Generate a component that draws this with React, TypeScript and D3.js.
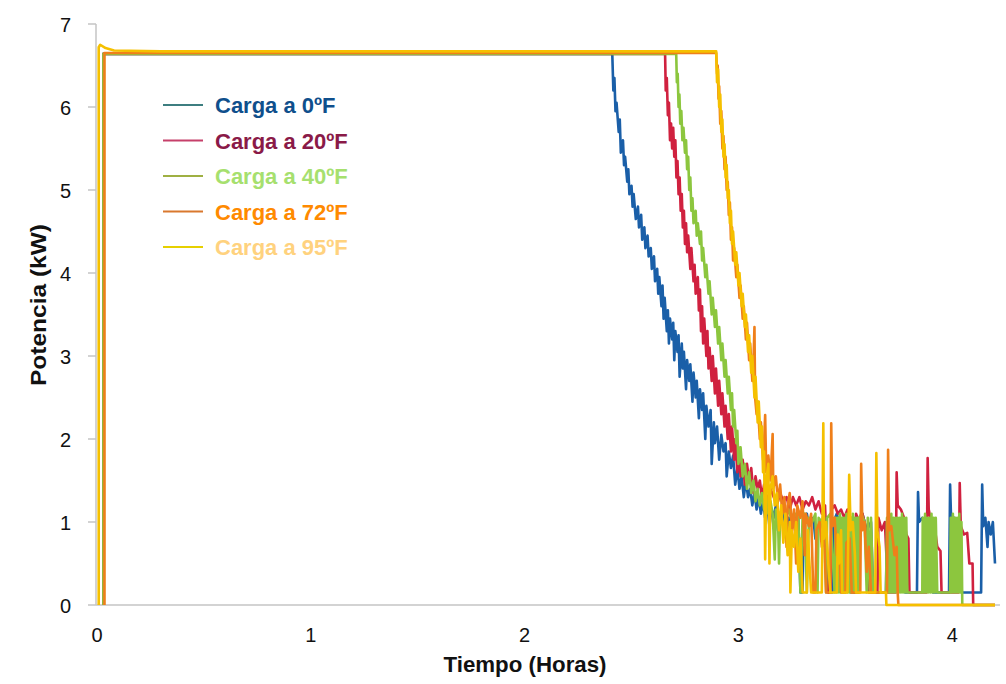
import React from "react";
import * as d3 from "d3";

type Pt = [number, number];

const xTicks = [0, 1, 2, 3, 4];
const yTicks = [0, 1, 2, 3, 4, 5, 6, 7];
const legendLabels = ["Carga a 0ºF", "Carga a 20ºF", "Carga a 40ºF", "Carga a 72ºF", "Carga a 95ºF"];

const carga0F: Pt[] = [
  [0.03, 0], [0.03, 6.64], [1.2, 6.64], [2.41, 6.64],
  [2.415, 6.2], [2.42, 6.35], [2.425, 5.95], [2.43, 6.05], [2.44, 5.7], [2.445, 5.85], [2.45, 5.45], [2.46, 5.6], [2.465, 5.3], [2.47, 5.4], [2.48, 5.1], [2.485, 5.25], [2.49, 4.95], [2.5, 5.05], [2.505, 4.8], [2.51, 4.95], [2.52, 4.65], [2.53, 4.8], [2.535, 4.55], [2.545, 4.7], [2.55, 4.4], [2.56, 4.55], [2.565, 4.3], [2.575, 4.45], [2.58, 4.2], [2.59, 4.3], [2.595, 4.05], [2.605, 4.2], [2.61, 3.9], [2.62, 4.05], [2.625, 3.75], [2.63, 3.95], [2.64, 3.6], [2.645, 3.85], [2.65, 3.45], [2.655, 3.7], [2.665, 3.3], [2.67, 3.55], [2.675, 3.15], [2.68, 3.45], [2.69, 3.2], [2.695, 3.4], [2.7, 2.95], [2.705, 3.3], [2.715, 3.05], [2.72, 3.25], [2.725, 2.75], [2.735, 3.15], [2.74, 2.85], [2.745, 3.05], [2.755, 2.6], [2.76, 2.95], [2.77, 2.7], [2.775, 2.9], [2.785, 2.45], [2.79, 2.8], [2.8, 2.5], [2.805, 2.7], [2.815, 2.25], [2.82, 2.6], [2.83, 2.35], [2.835, 2.55], [2.845, 2.0], [2.85, 2.4], [2.86, 2.15], [2.87, 2.35], [2.875, 1.7], [2.885, 2.2], [2.89, 1.95], [2.9, 2.15], [2.91, 1.75], [2.92, 2.05], [2.93, 1.85], [2.94, 1.95], [2.945, 1.55], [2.955, 1.85], [2.965, 1.65], [2.975, 1.8], [2.985, 1.45], [2.995, 1.65], [3.005, 1.4], [3.015, 1.55], [3.025, 1.3], [3.035, 1.5], [3.045, 1.3], [3.055, 1.4], [3.065, 1.2], [3.075, 1.35], [3.085, 1.15], [3.095, 1.3], [3.105, 1.1], [3.115, 1.25], [3.125, 1.05], [3.135, 1.2], [3.145, 0.95], [3.155, 1.15], [3.165, 1.05], [3.175, 1.2], [3.185, 0.9], [3.195, 1.1], [3.205, 1.0], [3.215, 1.15], [3.225, 0.85], [3.235, 1.05], [3.25, 1.0],
  [3.26, 1.1], [3.27, 0.9], [3.28, 1.05], [3.29, 0.15], [3.3, 0.15], [3.305, 1.0], [3.32, 1.1], [3.33, 0.95], [3.35, 1.05], [3.36, 0.8], [3.38, 1.0], [3.4, 0.9], [3.41, 1.05], [3.42, 0.15], [3.44, 0.15], [3.445, 1.0], [3.46, 1.1], [3.48, 0.9], [3.5, 1.0], [3.52, 0.85], [3.53, 1.05], [3.54, 0.15], [3.56, 0.15], [3.565, 1.0], [3.58, 1.1], [3.6, 0.9], [3.62, 1.0], [3.63, 0.15], [3.69, 0.15], [3.695, 0.95], [3.71, 1.05], [3.73, 0.9], [3.75, 1.0], [3.77, 0.85], [3.78, 0.15], [3.835, 0.15], [3.84, 1.36], [3.845, 1.0], [3.86, 1.05], [3.88, 0.9], [3.9, 1.0], [3.91, 0.15], [3.985, 0.15], [3.99, 1.45], [3.995, 1.0], [4.01, 1.05], [4.03, 0.9], [4.045, 0.15], [4.135, 0.15], [4.14, 1.45], [4.145, 0.95], [4.155, 1.05], [4.165, 0.7], [4.17, 1.0], [4.18, 0.85], [4.19, 1.0], [4.2, 0.5],
];

const carga20F: Pt[] = [
  [0.03, 0], [0.03, 6.64], [1.3, 6.64], [2.657, 6.64],
  [2.66, 6.2], [2.665, 6.35], [2.67, 5.9], [2.675, 6.05], [2.68, 5.6], [2.685, 5.8], [2.69, 5.5], [2.695, 5.75], [2.7, 5.4], [2.705, 5.6], [2.71, 5.15], [2.715, 5.35], [2.72, 4.95], [2.725, 5.15], [2.73, 4.75], [2.735, 4.95], [2.74, 4.55], [2.745, 4.75], [2.75, 4.35], [2.755, 4.6], [2.76, 4.25], [2.765, 4.45], [2.775, 4.05], [2.78, 4.3], [2.79, 3.9], [2.795, 4.1], [2.8, 3.75], [2.81, 3.95], [2.815, 3.55], [2.82, 3.8], [2.825, 3.3], [2.83, 3.6], [2.835, 3.15], [2.84, 3.45], [2.85, 3.0], [2.855, 3.3], [2.86, 2.85], [2.865, 3.1], [2.875, 2.7], [2.88, 3.0], [2.89, 2.55], [2.895, 2.85], [2.905, 2.4], [2.91, 2.7], [2.92, 2.3], [2.925, 2.55], [2.935, 2.15], [2.94, 2.4], [2.95, 2.0], [2.955, 2.3], [2.965, 1.85], [2.97, 2.15], [2.98, 1.75], [2.985, 2.0], [2.995, 1.6], [3.0, 1.9], [3.01, 1.55], [3.02, 1.75], [3.03, 1.45], [3.04, 1.7], [3.05, 1.5], [3.06, 1.65], [3.07, 1.35], [3.08, 1.55], [3.09, 1.4], [3.1, 1.5], [3.11, 1.3], [3.12, 1.45], [3.135, 1.25], [3.15, 1.4], [3.165, 1.3], [3.18, 1.2], [3.195, 1.35], [3.21, 1.25], [3.225, 1.3], [3.24, 1.15], [3.255, 1.3], [3.27, 1.2], [3.285, 1.3], [3.3, 1.15], [3.315, 1.25], [3.33, 1.2], [3.345, 1.3], [3.36, 1.15], [3.375, 1.25], [3.39, 1.1], [3.405, 1.2], [3.42, 0.15], [3.43, 0.15], [3.435, 1.15], [3.45, 1.2], [3.465, 1.1], [3.48, 1.15], [3.495, 1.05], [3.51, 1.15], [3.525, 0.15], [3.545, 0.15], [3.55, 1.1], [3.565, 1.0], [3.58, 1.1], [3.595, 0.95], [3.61, 0.15], [3.65, 0.15], [3.655, 1.05], [3.67, 0.9], [3.685, 1.0], [3.7, 0.15], [3.735, 0.15], [3.74, 1.6], [3.745, 1.2], [3.76, 1.15], [3.775, 1.05], [3.785, 0.85], [3.795, 0.8], [3.8, 0.15], [3.88, 0.15], [3.885, 1.77], [3.89, 1.15], [3.905, 0.95], [3.92, 0.9], [3.93, 0.7], [3.945, 0.65], [3.95, 0.15], [4.03, 0.15], [4.035, 1.47], [4.04, 0.95], [4.055, 0.85], [4.07, 0.87], [4.08, 0.5], [4.095, 0.5], [4.098, 0], [4.2, 0],
];

const carga40F: Pt[] = [
  [0.03, 0], [0.03, 6.64], [1.4, 6.64], [2.709, 6.64],
  [2.712, 6.3], [2.716, 6.4], [2.72, 6.0], [2.724, 6.15], [2.728, 5.8], [2.733, 5.95], [2.738, 5.6], [2.743, 5.75], [2.75, 5.45], [2.755, 5.6], [2.76, 5.25], [2.765, 5.4], [2.77, 5.0], [2.775, 5.15], [2.78, 4.75], [2.785, 4.9], [2.79, 4.6], [2.8, 4.75], [2.805, 4.45], [2.81, 4.6], [2.82, 4.35], [2.825, 4.5], [2.83, 4.15], [2.835, 4.3], [2.845, 3.95], [2.85, 4.1], [2.86, 3.75], [2.865, 3.9], [2.875, 3.5], [2.88, 3.7], [2.89, 3.35], [2.895, 3.55], [2.905, 3.15], [2.91, 3.35], [2.92, 2.95], [2.925, 3.15], [2.935, 2.75], [2.94, 2.95], [2.95, 2.55], [2.955, 2.75], [2.965, 2.35], [2.97, 2.55], [2.975, 2.15], [2.98, 2.35], [2.99, 1.95], [2.995, 2.1], [3.0, 1.7], [3.01, 1.9], [3.02, 1.55], [3.03, 1.7], [3.04, 1.4], [3.05, 1.6], [3.06, 1.35], [3.07, 1.5], [3.08, 1.25], [3.09, 1.4], [3.1, 1.2], [3.11, 1.35], [3.12, 1.15], [3.13, 1.3], [3.14, 1.1], [3.15, 1.25],
  [3.16, 1.1], [3.17, 0.55], [3.175, 1.15], [3.185, 1.05], [3.19, 0.5], [3.195, 1.1], [3.21, 1.2], [3.22, 1.05], [3.235, 1.15], [3.25, 1.0], [3.265, 1.1], [3.28, 1.05], [3.29, 0.15], [3.3, 1.05], [3.31, 1.1], [3.32, 0.15], [3.33, 1.05], [3.345, 1.0], [3.36, 1.1], [3.37, 0.15], [3.375, 1.05], [3.39, 1.0], [3.4, 1.1], [3.41, 0.15], [3.415, 1.05], [3.43, 1.1],
  [3.45, 0.15], [3.455, 1.05], [3.46, 0.15], [3.465, 1.05], [3.47, 0.15], [3.475, 1.1], [3.48, 0.15], [3.485, 1.05], [3.49, 0.15], [3.495, 1.05], [3.5, 0.15], [3.505, 1.1], [3.51, 0.15], [3.515, 1.05], [3.52, 0.15], [3.525, 1.05], [3.53, 0.15], [3.535, 1.1], [3.54, 0.15], [3.545, 1.05], [3.55, 0.15], [3.555, 1.05], [3.56, 0.15], [3.565, 1.05], [3.575, 1.1], [3.59, 1.0], [3.6, 0.15], [3.605, 1.05], [3.615, 0.15], [3.62, 1.05], [3.63, 0.15],
  [3.69, 0.15], [3.695, 1.05], [3.7, 0.15], [3.705, 1.05], [3.71, 0.15], [3.715, 1.1], [3.72, 0.15], [3.725, 1.05], [3.73, 0.15], [3.735, 1.05], [3.74, 0.15], [3.745, 1.05], [3.75, 0.15], [3.755, 1.05], [3.76, 0.15], [3.765, 1.1], [3.77, 0.15], [3.775, 1.05], [3.78, 0.15], [3.785, 1.05], [3.79, 0.15],
  [3.86, 0.15], [3.862, 1.05], [3.868, 0.15], [3.873, 1.1], [3.878, 0.15], [3.883, 1.05], [3.888, 0.15], [3.893, 1.05], [3.898, 0.15], [3.903, 1.1], [3.908, 0.15], [3.913, 1.05], [3.918, 0.15], [3.923, 1.05], [3.93, 0.15],
  [3.99, 0.15], [3.993, 1.05], [3.998, 0.15], [4.003, 1.1], [4.008, 0.15], [4.013, 1.05], [4.018, 0.15], [4.023, 1.05], [4.028, 0.15], [4.033, 1.1], [4.038, 0.15], [4.043, 1.0], [4.047, 0], [4.2, 0],
];

const carga72F: Pt[] = [
  [0.035, 0], [0.035, 6.65], [1.5, 6.65], [2.896, 6.65],
  [2.9, 6.4], [2.903, 6.5], [2.907, 6.1], [2.91, 6.25], [2.915, 5.8], [2.92, 5.95], [2.925, 5.5], [2.93, 5.65], [2.935, 5.25], [2.94, 5.4], [2.945, 5.0], [2.95, 5.1], [2.955, 4.7], [2.96, 4.85], [2.965, 4.4], [2.97, 4.55], [2.975, 4.15], [2.98, 4.3], [2.99, 3.95], [2.995, 4.1], [3.005, 3.7], [3.01, 3.85], [3.02, 3.45], [3.025, 3.6], [3.035, 3.2], [3.04, 3.4], [3.05, 2.95], [3.055, 3.15], [3.065, 2.7], [3.07, 2.9], [3.075, 3.35], [3.078, 2.5], [3.085, 2.3], [3.09, 2.45], [3.1, 2.0], [3.105, 2.2], [3.115, 1.75], [3.12, 1.95], [3.125, 2.29], [3.13, 1.6], [3.14, 1.8], [3.15, 1.5], [3.16, 2.06], [3.163, 1.4], [3.175, 1.55], [3.185, 1.25], [3.195, 1.45], [3.205, 1.1], [3.215, 1.3], [3.225, 0.7], [3.23, 1.2], [3.24, 1.35], [3.25, 0.9], [3.26, 1.15], [3.27, 0.5], [3.275, 1.2], [3.29, 1.05], [3.3, 1.25], [3.31, 0.6], [3.315, 1.1], [3.33, 0.95], [3.34, 1.1], [3.35, 0.15], [3.36, 0.15], [3.365, 0.9], [3.38, 1.0], [3.39, 0.7], [3.4, 0.9], [3.41, 0.15], [3.43, 0.15], [3.434, 2.19], [3.44, 0.95], [3.45, 1.05], [3.46, 0.6], [3.47, 0.8], [3.48, 0.15], [3.5, 0.15], [3.505, 0.75], [3.52, 0.8], [3.53, 0.15], [3.57, 0.15], [3.574, 1.7], [3.58, 0.9], [3.59, 1.0], [3.6, 0.4], [3.61, 0.7], [3.62, 0.15], [3.695, 0.15], [3.7, 1.87], [3.705, 0.9], [3.715, 0.95], [3.73, 0.6], [3.74, 0.7], [3.745, 0.15], [3.748, 0], [4.2, 0],
];

const carga95F: Pt[] = [
  [0.008, 0], [0.008, 6.72], [0.015, 6.75], [0.04, 6.71], [0.08, 6.68], [0.3, 6.67], [2.896, 6.67],
  [2.9, 6.3], [2.905, 6.45], [2.91, 6.0], [2.915, 6.15], [2.92, 5.7], [2.925, 5.85], [2.93, 5.4], [2.935, 5.55], [2.94, 5.15], [2.945, 5.3], [2.95, 4.9], [2.955, 5.0], [2.96, 4.6], [2.965, 4.75], [2.97, 4.35], [2.975, 4.5], [2.985, 4.1], [2.99, 4.25], [3.0, 3.85], [3.005, 4.0], [3.015, 3.6], [3.02, 3.75], [3.03, 3.35], [3.035, 3.5], [3.045, 3.05], [3.05, 3.25], [3.06, 2.8], [3.065, 3.0], [3.075, 2.5], [3.08, 2.75], [3.09, 2.2], [3.095, 2.45], [3.105, 1.9], [3.11, 2.15], [3.115, 1.6], [3.12, 1.85], [3.125, 0.55], [3.13, 1.5], [3.14, 1.7], [3.145, 0.5], [3.15, 1.4], [3.16, 1.55], [3.17, 1.2], [3.18, 1.35], [3.19, 0.9], [3.2, 1.2], [3.21, 0.75], [3.22, 1.1], [3.23, 0.6], [3.24, 1.0], [3.243, 0.15], [3.25, 0.9], [3.26, 0.7], [3.27, 1.0], [3.28, 0.4], [3.29, 0.8], [3.3, 0.15], [3.32, 0.15], [3.325, 0.9], [3.33, 0.6], [3.34, 0.15], [3.39, 0.15], [3.397, 2.19], [3.4, 0.8], [3.41, 1.0], [3.42, 0.5], [3.43, 0.15], [3.46, 0.15], [3.465, 0.85], [3.47, 0.5], [3.48, 0.9], [3.485, 0.15], [3.51, 0.15], [3.518, 1.57], [3.525, 0.9], [3.535, 1.0], [3.545, 0.6], [3.55, 0.15], [3.64, 0.15], [3.645, 1.83], [3.65, 0.9], [3.66, 0.7], [3.665, 0.15], [3.69, 0.15], [3.692, 0], [4.2, 0],
];

const seriesData = [carga0F, carga20F, carga40F, carga72F, carga95F];
const lineColors = ["#1a5fa8", "#d0213f", "#8cc63e", "#ef7f1a", "#f5c000"];
const legendLineColors = ["#3d7e80", "#c6406a", "#9fb043", "#d9782e", "#e6d000"];
const legendTextColors = ["#0f4f8c", "#8a1a48", "#a6e06e", "#ff8a00", "#ffd27e"];

export default function App() {
  const W = 1006;
  const H = 684;
  const x = d3.scaleLinear().domain([0, 4.2]).range([97, 995]);
  const y = d3.scaleLinear().domain([0, 7]).range([605, 24]);
  const line = d3.line<Pt>().x((d) => x(d[0])).y((d) => y(d[1]));
  const font = "'Liberation Sans', Arial, Helvetica, sans-serif";
  const axisColor = "#c4c4c4";

  return (
    <svg
      width={W}
      height={H}
      style={{ position: "absolute", left: 0, top: 0, background: "#fff" }}
      fontFamily={font}
    >
      <rect x={0} y={0} width={W} height={H} fill="#fff" />
      <line x1={96} x2={96} y1={y(7)} y2={y(0)} stroke={axisColor} strokeWidth={1.5} />
      <line x1={96} x2={1000} y1={y(0)} y2={y(0)} stroke={axisColor} strokeWidth={1.5} />
      {yTicks.map((t) => (
        <g key={"y" + t}>
          <line x1={88} x2={96} y1={y(t)} y2={y(t)} stroke={axisColor} strokeWidth={1.5} />
          <text x={71} y={y(t) + 8} fontSize={20} textAnchor="end" fill="#111">
            {t}
          </text>
        </g>
      ))}
      {xTicks.map((t) => (
        <text key={"x" + t} x={x(t)} y={642} fontSize={20} textAnchor="middle" fill="#111">
          {t}
        </text>
      ))}
      <text x={525} y={672} fontSize={22} fontWeight="bold" textAnchor="middle" fill="#111" textLength={163} lengthAdjust="spacingAndGlyphs">
        Tiempo (Horas)
      </text>
      <text
        transform={`translate(46, ${305}) rotate(-90)`}
        fontSize={22}
        fontWeight="bold"
        textAnchor="middle"
        fill="#111"
        textLength={162}
        lengthAdjust="spacingAndGlyphs"
      >
        Potencia (kW)
      </text>
      {seriesData.map((d, i) => (
        <path
          key={"s" + i}
          d={line(d) || ""}
          fill="none"
          stroke={lineColors[i]}
          strokeWidth={2.6}
          strokeLinejoin="round"
        />
      ))}
      {legendLabels.map((lab, i) => {
        const ly = 105 + i * 35.5;
        return (
          <g key={"l" + i}>
            <line x1={163} x2={203} y1={ly} y2={ly} stroke={legendLineColors[i]} strokeWidth={2} />
            <text x={215} y={ly + 8} fontSize={22} fontWeight="bold" fill={legendTextColors[i]}>
              {lab}
            </text>
          </g>
        );
      })}
    </svg>
  );
}
